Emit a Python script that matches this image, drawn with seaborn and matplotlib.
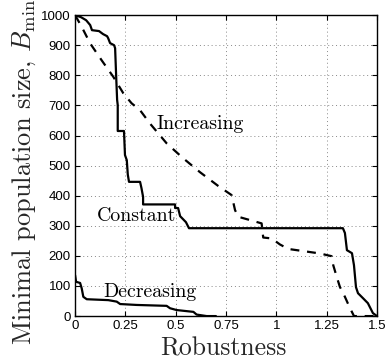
import matplotlib
matplotlib.use("Agg")
import matplotlib.pyplot as plt
import seaborn as sns
import pandas as pd

# ---- data ----
constant_x = [0, 0.03, 0.055, 0.075, 0.084, 0.119, 0.139, 0.159, 0.164, 0.174, 0.194, 0.199,
              0.204, 0.209, 0.212, 0.212, 0.243, 0.248, 0.257, 0.262, 0.268, 0.323, 0.330,
              0.338, 0.338, 0.497, 0.497, 0.512, 0.522, 0.551, 0.566, 1.331, 1.341, 1.351,
              1.376, 1.386, 1.396, 1.406, 1.430, 1.455, 1.480, 1.5]
constant_y = [1000, 993, 983, 967, 950, 947, 937, 930, 924, 907, 900, 890,
              800, 718, 701, 615, 615, 535, 518, 470, 446, 446, 425,
              396, 371, 371, 359, 359, 332, 312, 292, 292, 276, 219,
              209, 169, 96, 76, 60, 43, 10, 0]

increasing_x = [0, 0.033, 0.075, 0.132, 0.190, 0.240, 0.281, 0.323, 0.372, 0.455, 0.538,
                0.621, 0.712, 0.778, 0.795, 0.811, 0.927, 0.935, 0.977, 1.018, 1.060,
                1.217, 1.275, 1.283, 1.300, 1.316, 1.341, 1.363, 1.386, 1.5]
increasing_y = [1000, 961, 906, 850, 795, 740, 707, 684, 640, 574, 524,
                478, 432, 402, 352, 330, 308, 261, 258, 238, 223,
                208, 199, 169, 131, 97, 64, 31, 0, 0]

decreasing_x = [0, 0.005, 0.025, 0.033, 0.041, 0.058, 0.165, 0.207, 0.224, 0.306, 0.455,
                0.472, 0.505, 0.588, 0.604, 0.654, 0.70]
decreasing_y = [136, 114, 110, 92, 64, 56, 53, 48, 40, 37, 34,
                26, 20, 14, 5, 0, 0]

x_ticks = [0, 0.25, 0.5, 0.75, 1, 1.25, 1.5]
x_ticklabels = ["0", "0.25", "0.5", "0.75", "1", "1.25", "1.5"]
y_ticks = [0, 100, 200, 300, 400, 500, 600, 700, 800, 900, 1000]

labels = ["Increasing", "Constant", "Decreasing"]
label_pos_x = [0.405, 0.11, 0.14]
label_pos_y = [638, 332, 80]

# ---- plotting ----
sns.set_style("white")
plt.rcParams["mathtext.fontset"] = "cm"
plt.rcParams["axes.unicode_minus"] = False

fig = plt.figure(figsize=(3.85, 3.6), dpi=100)
ax = fig.add_axes([0.195, 0.122, 0.784, 0.836])

sns.lineplot(x=constant_x, y=constant_y, ax=ax, sort=False, estimator=None,
             color="black", linewidth=1.6)
sns.lineplot(x=increasing_x, y=increasing_y, ax=ax, sort=False, estimator=None,
             color="black", linewidth=1.6, dashes=False)
ax.lines[-1].set_linestyle((0, (4, 3.5)))
sns.lineplot(x=decreasing_x, y=decreasing_y, ax=ax, sort=False, estimator=None,
             color="black", linewidth=1.6)

ax.set_xlim(0, 1.5)
ax.set_ylim(0, 1000)
ax.set_xticks(x_ticks)
ax.set_xticklabels(x_ticklabels, fontname="Liberation Sans", fontsize=9.5)
ax.set_yticks(y_ticks)
ax.set_yticklabels([str(v) for v in y_ticks], fontname="Liberation Sans", fontsize=9.5)
ax.tick_params(direction="in", length=3.5, width=0.8, top=True, right=True,
               bottom=True, left=True, pad=3, colors="black")

ax.grid(True, linestyle=(0, (1, 3)), color="#888888", linewidth=0.7)
for s in ax.spines.values():
    s.set_visible(True)
    s.set_color("black")
    s.set_linewidth(1.0)

ax.set_xlabel("Robustness", fontname="cmr10", fontsize=18.5)
ax.xaxis.set_label_coords(0.49, -0.068)
ax.set_ylabel("Minimal population size, $B_{\\min}$", fontname="cmr10",
              fontsize=19)
ax.yaxis.set_label_coords(-0.122, 0.478)

for t, x, y in zip(labels, label_pos_x, label_pos_y):
    ax.text(x, y, t, fontname="cmr10", fontsize=14.3, ha="left", va="center",
            color="black", zorder=5)

fig.savefig("out.png", dpi=100)
